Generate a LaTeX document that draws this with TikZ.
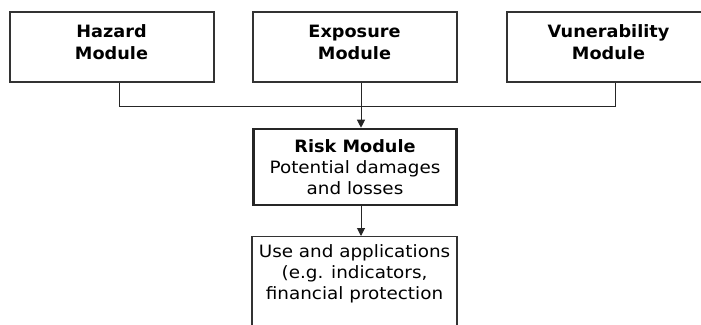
\documentclass[tikz,border=0pt]{standalone}
\usepackage{fontspec}
\setmainfont{DejaVu Sans}[FakeStretch=1.08, BoldFeatures={FakeStretch=1.04}]
\usetikzlibrary{arrows.meta}
\begin{document}
\begin{tikzpicture}[x=1pt, y=-1pt,
  module/.style={draw=black!80, line width=2pt, minimum width=204pt,
    minimum height=70pt, inner sep=0pt, align=center, text depth=9pt,
    font=\fontsize{17}{22}\selectfont\bfseries},
  riskbox/.style={draw=black!85, line width=2.6pt, minimum width=203pt,
    minimum height=76pt, inner sep=0pt, align=center,
    font=\fontsize{17}{21}\selectfont},
  usebox/.style={draw=black!80, line width=1.3pt, minimum width=205pt,
    inner ysep=7.5pt, inner xsep=0pt, align=center, text depth=66pt,
    font=\fontsize{17}{21}\selectfont},
  link/.style={line width=1pt, draw=black!85},
  feed/.style={link, -{Triangle[length=8pt, width=8pt]}}]
  \clip (0,0) rectangle (701,324);
  \fill[white] (0,0) rectangle (701,324);
  % the three input modules
  \node[module] (hazard) at (111.5,47) {Hazard\\Module};
  \node[module] (exposure) at (354.5,47) {Exposure\\Module};
  \node[module] (vulner) at (608.5,47) {Vunerability\\Module};
  \coordinate (join) at (361,106);
  % risk module and its use
  \node[riskbox] (risk) at (355,167) {\textbf{Risk Module}\\Potential damages\\and losses};
  \node[usebox, anchor=north] (use) at (354.5,236) {Use and applications\\(e.g. indicators,\\financial protection};
  \draw[link] ([xshift=7.5pt]hazard.south) |- (join);
  \draw[link] ([xshift=6.5pt]vulner.south) |- (join);
  \draw[feed] ([xshift=6.5pt]exposure.south) -- ([xshift=6pt]risk.north);
  \draw[feed] ([xshift=6pt]risk.south) -- ([xshift=6.5pt]use.north);
\end{tikzpicture}
\end{document}
